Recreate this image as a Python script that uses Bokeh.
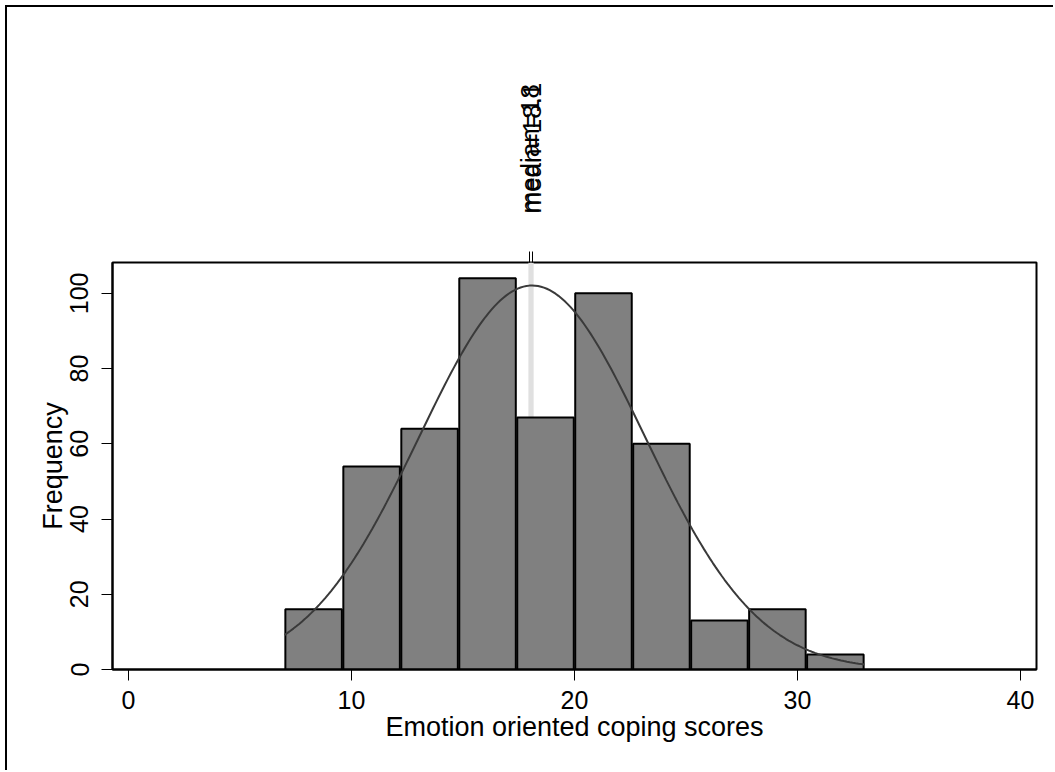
import numpy as np
from bokeh.plotting import figure
from bokeh.models import LinearAxis, FixedTicker, Range1d, ColumnDataSource
from bokeh.embed import file_html
from bokeh.resources import INLINE

# Histogram of emotion oriented coping scores (10 bins of width 2.6 from 7 to 33)
bin_left = [7.0, 9.6, 12.2, 14.8, 17.4, 20.0, 22.6, 25.2, 27.8, 30.4]
bin_width = 2.6
frequency = [16, 54, 64, 104, 67, 100, 60, 13, 16, 4]

# Summary statistics marked on the top axis
score_mean = 18.1
score_median = 18.0
score_sd = 5.06
n_obs = sum(frequency)

x_ticks = [0, 10, 20, 30, 40]
y_ticks = [0, 20, 40, 60, 80, 100]

FONT = "Liberation Sans"

p = figure(width=1048, height=765, output_backend="svg", toolbar_location=None,
           x_range=Range1d(-0.72, 40.72), y_range=Range1d(0, 108.2),
           min_border_left=105, min_border_right=19, min_border_top=255,
           min_border_bottom=103, x_axis_label="Emotion oriented coping scores",
           y_axis_label="Frequency")
p.margin = (5, 0, 0, 5)
p.styles = {"border-top": "2px solid #000", "border-left": "2px solid #000"}
p.background_fill_color = "white"
p.border_fill_color = "white"
p.outline_line_color = "black"
p.outline_line_width = 2
p.grid.visible = False

# reference lines at median and mean
for loc in (score_median, score_mean):
    p.line([loc, loc], [0, 108.2], line_color="#e0e0e0", line_width=3)

# bars
centers = [b + bin_width / 2 for b in bin_left]
src = ColumnDataSource(dict(x=centers, top=frequency))
p.vbar(x="x", top="top", bottom=0, width=bin_width * 0.975, source=src,
       fill_color="#808080", line_color="black", line_width=2)

# normal density scaled to counts
xs = np.linspace(bin_left[0], bin_left[-1] + bin_width, 200)
ys = n_obs * bin_width / (score_sd * np.sqrt(2 * np.pi)) * np.exp(-0.5 * ((xs - score_mean) / score_sd) ** 2)
p.line(xs, ys, line_color="#3a3a3a", line_width=2)

# axes styling
xa = p.xaxis[0]
xa.ticker = FixedTicker(ticks=x_ticks)
ya = p.yaxis[0]
ya.ticker = FixedTicker(ticks=y_ticks)
ya.major_label_orientation = "vertical"
for ax in (xa, ya):
    ax.axis_line_color = "black"
    ax.axis_line_width = 2
    ax.major_tick_line_color = "black"
    ax.major_tick_line_width = 1
    ax.major_tick_in = 0
    ax.major_tick_out = 11
    ax.minor_tick_line_color = None
    ax.major_label_text_font = FONT
    ax.major_label_text_font_size = "25px"
    ax.major_label_text_color = "black"
    ax.axis_label_text_font = FONT
    ax.axis_label_text_font_size = "27px"
    ax.axis_label_text_font_style = "normal"
    ax.axis_label_text_color = "black"
xa.major_label_standoff = 10
xa.axis_label_standoff = 0
ya.major_label_standoff = 13
ya.axis_label_standoff = 0

# top axis marking median and mean
top_ax = LinearAxis(ticker=FixedTicker(ticks=[score_median, score_mean]),
                    major_label_overrides={score_median: "median=18", score_mean: "mean=18.1"})
top_ax.major_label_orientation = "vertical"
top_ax.axis_line_color = None
top_ax.major_tick_line_color = "black"
top_ax.major_tick_line_width = 1
top_ax.major_tick_in = 0
top_ax.major_tick_out = 11
top_ax.minor_tick_line_color = None
top_ax.major_label_standoff = 38
top_ax.major_label_text_font = FONT
top_ax.major_label_text_font_size = "26px"
top_ax.major_label_text_color = "black"
p.add_layout(top_ax, "above")

open("out.html", "w").write(file_html(p, INLINE))
